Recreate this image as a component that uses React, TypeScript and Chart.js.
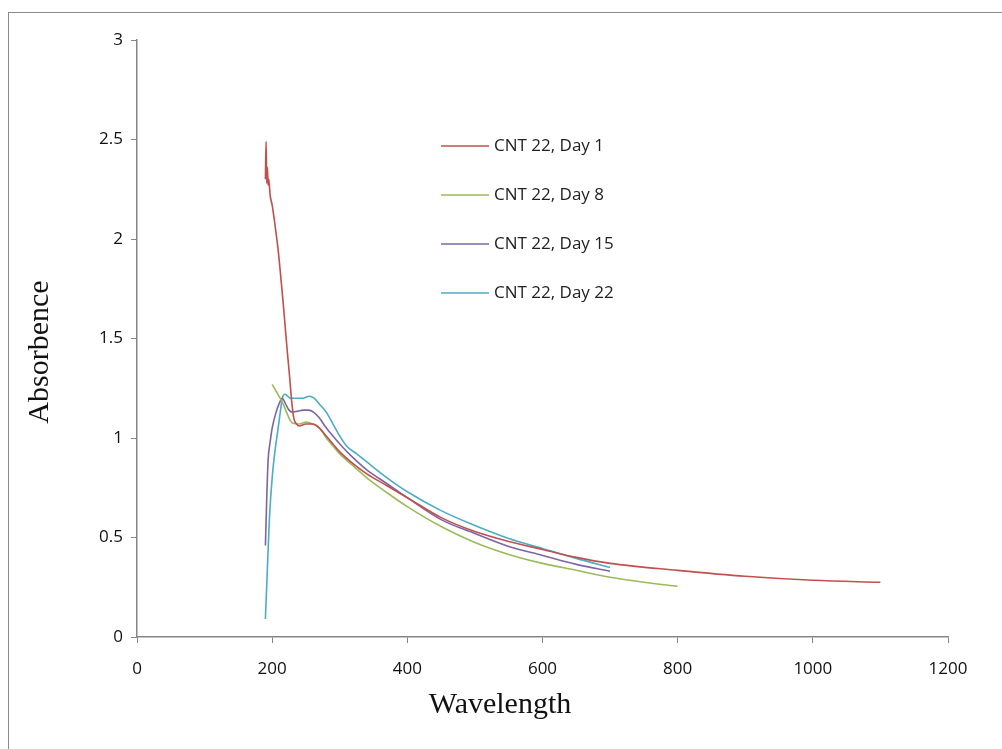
import React, { useEffect, useRef } from "react";
import { Chart, registerables } from "chart.js";

Chart.register(...registerables);

// ---- data ----
const seriesNames = ["CNT 22, Day 1", "CNT 22, Day 8", "CNT 22, Day 15", "CNT 22, Day 22"];
const seriesColors = ["#C0504D", "#9BBB59", "#8064A2", "#4BACC6"];
const xTitle = "Wavelength";
const yTitle = "Absorbence";

const day1Wavelength = [190, 191, 192, 193, 194, 195, 197, 200, 205, 209, 213, 216, 219, 222, 226, 229, 232, 236, 240, 250, 260, 270, 280, 290, 300, 320, 340, 370, 400, 450, 500, 550, 600, 650, 700, 800, 900, 1000, 1100];
const day1Absorbance = [2.30, 2.49, 2.28, 2.36, 2.27, 2.30, 2.22, 2.17, 2.05, 1.94, 1.80, 1.69, 1.57, 1.45, 1.30, 1.18, 1.10, 1.07, 1.06, 1.07, 1.07, 1.05, 1.01, 0.97, 0.93, 0.87, 0.82, 0.76, 0.70, 0.60, 0.53, 0.48, 0.44, 0.40, 0.37, 0.335, 0.305, 0.285, 0.275];

const day8Wavelength = [200, 205, 210, 215, 220, 225, 230, 240, 250, 260, 270, 280, 290, 300, 320, 340, 370, 400, 450, 500, 550, 600, 650, 700, 750, 800];
const day8Absorbance = [1.27, 1.24, 1.21, 1.18, 1.14, 1.10, 1.075, 1.07, 1.08, 1.07, 1.05, 1.00, 0.96, 0.92, 0.86, 0.80, 0.725, 0.655, 0.555, 0.475, 0.415, 0.37, 0.335, 0.30, 0.275, 0.255];

const day15Wavelength = [190, 192, 194, 197, 200, 205, 210, 215, 220, 225, 230, 238, 246, 254, 261, 270, 278, 285, 300, 320, 340, 370, 400, 450, 500, 550, 600, 650, 700];
const day15Absorbance = [0.46, 0.70, 0.89, 0.98, 1.05, 1.12, 1.17, 1.20, 1.17, 1.14, 1.13, 1.135, 1.14, 1.14, 1.13, 1.10, 1.06, 1.03, 0.97, 0.90, 0.84, 0.77, 0.70, 0.59, 0.52, 0.455, 0.41, 0.365, 0.33];

const day22Wavelength = [190, 193, 196, 200, 204, 208, 212, 215, 219, 223, 227, 235, 245, 255, 262, 270, 280, 290, 300, 310, 325, 340, 370, 400, 450, 500, 550, 600, 650, 700];
const day22Absorbance = [0.09, 0.35, 0.60, 0.80, 0.93, 1.03, 1.13, 1.20, 1.22, 1.21, 1.20, 1.20, 1.20, 1.21, 1.20, 1.17, 1.13, 1.07, 1.01, 0.96, 0.92, 0.88, 0.80, 0.73, 0.635, 0.56, 0.495, 0.445, 0.395, 0.35];

const xTicks = [0, 200, 400, 600, 800, 1000, 1200];
const yTicks = [0, 0.5, 1, 1.5, 2, 2.5, 3];

const wavelengths = [day1Wavelength, day8Wavelength, day15Wavelength, day22Wavelength];
const absorbances = [day1Absorbance, day8Absorbance, day15Absorbance, day22Absorbance];

const sansFont = "'Open Sans', 'Noto Sans', sans-serif";
const serifFont = "'Liberation Serif', 'Times New Roman', serif";

const decorPlugin = {
  id: "decor",
  afterDraw(chart: any) {
    const ctx = chart.ctx;
    ctx.save();
    // legend inside the plot
    const x0 = 441;
    const rows = [146, 195, 244, 293];
    seriesNames.forEach((name, i) => {
      const y = rows[i];
      ctx.strokeStyle = seriesColors[i];
      ctx.lineWidth = 1.5;
      ctx.beginPath();
      ctx.moveTo(x0, y);
      ctx.lineTo(x0 + 48, y);
      ctx.stroke();
      ctx.fillStyle = "#222";
      ctx.font = `17px ${sansFont}`;
      ctx.textBaseline = "middle";
      ctx.textAlign = "left";
      ctx.fillText(name, x0 + 53, y);
    });
    // axis titles
    ctx.fillStyle = "#111";
    ctx.font = `30px ${serifFont}`;
    ctx.textAlign = "center";
    ctx.textBaseline = "middle";
    ctx.fillText(xTitle, 500, 705);
    ctx.translate(40, 352);
    ctx.rotate(-Math.PI / 2);
    ctx.fillText(yTitle, 0, 0);
    ctx.restore();
  },
};

export default function App() {
  const canvasRef = useRef<HTMLCanvasElement | null>(null);

  useEffect(() => {
    if (!canvasRef.current) return;
    const datasets = seriesNames.map((name, i) => ({
      label: name,
      data: wavelengths[i].map((w, j) => ({ x: w, y: absorbances[i][j] })),
      borderColor: seriesColors[i],
      backgroundColor: seriesColors[i],
      borderWidth: 1.6,
      pointRadius: 0,
      cubicInterpolationMode: "monotone" as const,
      fill: false,
    }));
    const chart = new Chart(canvasRef.current, {
      type: "line",
      data: { datasets },
      plugins: [decorPlugin],
      options: {
        animation: false,
        responsive: false,
        maintainAspectRatio: false,
        layout: { padding: { top: 40, right: 54, left: 0, bottom: 0 } },
        plugins: { legend: { display: false }, tooltip: { enabled: false } },
        scales: {
          x: {
            type: "linear",
            min: 0,
            max: 1200,
            afterFit: (s: any) => { s.height = 112; },
            afterBuildTicks: (s: any) => { s.ticks = xTicks.map((v) => ({ value: v })); },
            grid: { drawOnChartArea: false, drawTicks: true, tickLength: 6, color: "#868686" },
            border: { color: "#868686", width: 1.5 },
            ticks: {
              color: "#111",
              padding: 16,
              maxRotation: 0,
              font: { family: sansFont, size: 17 },
              callback: (v: any) => String(v),
            },
          },
          y: {
            type: "linear",
            min: 0,
            max: 3,
            afterFit: (s: any) => { s.width = 137; },
            afterBuildTicks: (s: any) => { s.ticks = yTicks.map((v) => ({ value: v })); },
            grid: { drawOnChartArea: false, drawTicks: true, tickLength: 6, color: "#868686" },
            border: { color: "#868686", width: 1.5 },
            ticks: {
              color: "#111",
              padding: 8,
              font: { family: sansFont, size: 17 },
              callback: (v: any) => String(v),
            },
          },
        },
      },
    });
    return () => chart.destroy();
  }, []);

  return (
    <div style={{ position: "fixed", left: 0, top: 0, width: 1002, height: 749, background: "#fff", overflow: "hidden" }}>
      <div
        style={{
          position: "absolute",
          left: 8,
          top: 12,
          width: 1100,
          height: 800,
          borderLeft: "1px solid #8a8a8a",
          borderTop: "1px solid #8a8a8a",
        }}
      />
      <canvas ref={canvasRef} width={1002} height={749} style={{ position: "absolute", left: 0, top: 0, width: 1002, height: 749 }} />
    </div>
  );
}
